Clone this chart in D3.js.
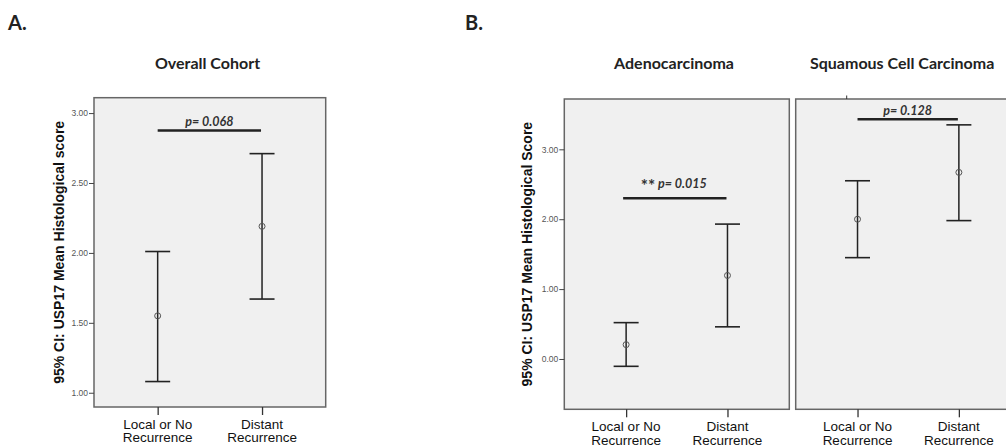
<!DOCTYPE html>
<html>
<head>
<meta charset="utf-8">
<script src="https://cdn.jsdelivr.net/npm/d3@7"></script>
<style>
  body { margin: 0; background: #fff; }
  svg { display: block; }
</style>
</head>
<body>
<svg id="chart" width="1006" height="447"></svg>
<script>
// values
var categories = [["Local or No", "Recurrence"], ["Distant", "Recurrence"]];

var overallMean = [1.55, 2.19];
var overallLow  = [1.08, 1.67];
var overallHigh = [2.01, 2.71];

var adenoMean = [0.205, 1.195];
var adenoLow  = [-0.105, 0.46];
var adenoHigh = [0.52, 1.93];

var squamMean = [2.00, 2.67];
var squamLow  = [1.45, 1.98];
var squamHigh = [2.55, 3.35];

var ticksA = [1.00, 1.50, 2.00, 2.50, 3.00];
var ticksB = [0.00, 1.00, 2.00, 3.00];

var pStars  = ["", "**", ""];
var pLabels = ["p= 0.068", "p= 0.015", "p= 0.128"];
var pLevels = [2.875, 2.30, 3.43];

var svg = d3.select("#chart");

// panel letters
svg.append("text").attr("x", 8).attr("y", 30).text("A.")
  .style("font-family", "Lato, 'Open Sans', sans-serif").style("font-weight", "bold")
  .style("font-size", "20px").style("fill", "#222");
svg.append("text").attr("x", 465).attr("y", 30).text("B.")
  .style("font-family", "Lato, 'Open Sans', sans-serif").style("font-weight", "bold")
  .style("font-size", "20px").style("fill", "#222");

var panels = [
  { title: "Overall Cohort", tx: 207.5, anchor: "middle", box: [94, 325.7, 97.7, 407], dom: [0.898, 3.11],
    ticks: ticksA, mean: overallMean, lo: overallLow, hi: overallHigh, p: 0, pGap: 4.5,
    ylab: "95% CI: USP17 Mean Histological score", ylx: 59 },
  { title: "Adenocarcinoma", tx: 674, anchor: "middle", box: [564.3, 789.3, 99, 409.3], dom: [-0.72, 3.72],
    ticks: ticksB, mean: adenoMean, lo: adenoLow, hi: adenoHigh, p: 1, pGap: 10, lineShift: -3,
    ylab: "95% CI: USP17 Mean Histological Score", ylx: 527.5 },
  { title: "Squamous Cell Carcinoma", tx: 810, anchor: "start", box: [795.7, 1020.7, 99, 409.3], dom: [-0.72, 3.72],
    ticks: null, mean: squamMean, lo: squamLow, hi: squamHigh, p: 2, pGap: 4.5 }
];

panels.forEach(function(pn) {
  var g = svg.append("g");
  var x = d3.scalePoint().domain([0, 1]).range([pn.box[0], pn.box[1]]).padding(0.61);
  var y = d3.scaleLinear().domain(pn.dom).range([pn.box[3], pn.box[2]]);

  g.append("text").attr("x", pn.tx).attr("y", 68.5).attr("text-anchor", pn.anchor)
    .text(pn.title)
    .style("font-family", "Lato, 'Open Sans', sans-serif").style("font-weight", "bold")
    .style("font-size", "16px").style("fill", "#222");

  g.append("rect")
    .attr("x", pn.box[0]).attr("y", pn.box[2])
    .attr("width", pn.box[1] - pn.box[0]).attr("height", pn.box[3] - pn.box[2])
    .style("fill", "#f0f0f0").style("stroke", "#666").style("stroke-width", 1.5);

  // y axis
  if (pn.ticks) {
    var ya = g.append("g").attr("transform", "translate(" + pn.box[0] + ",0)")
      .call(d3.axisLeft(y).tickValues(pn.ticks).tickSize(5).tickPadding(1).tickFormat(d3.format(".2f")));
    ya.select(".domain").remove();
    ya.selectAll("line").style("stroke", "#444");
    ya.selectAll("text").style("font-family", "'Liberation Sans', Arial, sans-serif")
      .style("font-size", "8.5px").style("fill", "#555");

    g.append("text")
      .attr("transform", "translate(" + pn.ylx + "," + ((pn.box[2] + pn.box[3]) / 2) + ") rotate(-90)")
      .attr("text-anchor", "middle").attr("dy", "0.35em")
      .text(pn.ylab)
      .style("font-family", "'Liberation Sans', Arial, sans-serif").style("font-weight", "bold")
      .style("font-size", "14px").style("fill", "#111");
  }

  // x axis
  var xa = g.append("g").attr("transform", "translate(0," + pn.box[3] + ")")
    .call(d3.axisBottom(x).tickSize(8).tickFormat(""));
  xa.select(".domain").remove();
  xa.selectAll("line").style("stroke", "#333").style("stroke-width", 1.3);

  categories.forEach(function(lines, i) {
    var t = g.append("text").attr("x", x(i)).attr("y", pn.box[3] + 21.5)
      .attr("text-anchor", "middle")
      .style("font-family", "'Liberation Sans', Arial, sans-serif")
      .style("font-size", "13.5px").style("fill", "#111");
    lines.forEach(function(s, k) {
      t.append("tspan").attr("x", x(i)).attr("dy", k === 0 ? 0 : 13.7).text(s);
    });
  });

  // error bars
  var idx = [0, 1];
  g.selectAll(".stem").data(idx).enter().append("line")
    .attr("x1", function(i) { return x(i); }).attr("x2", function(i) { return x(i); })
    .attr("y1", function(i) { return y(pn.lo[i]); }).attr("y2", function(i) { return y(pn.hi[i]); })
    .style("stroke", "#222").style("stroke-width", 1.5);
  [pn.lo, pn.hi].forEach(function(arr) {
    g.selectAll(null).data(idx).enter().append("line")
      .attr("x1", function(i) { return x(i) - 12.5; }).attr("x2", function(i) { return x(i) + 12.5; })
      .attr("y1", function(i) { return y(arr[i]); }).attr("y2", function(i) { return y(arr[i]); })
      .style("stroke", "#222").style("stroke-width", 1.6);
  });
  g.selectAll("circle").data(idx).enter().append("circle")
    .attr("cx", function(i) { return x(i); }).attr("cy", function(i) { return y(pn.mean[i]); })
    .attr("r", 3).style("fill", "none").style("stroke", "#555").style("stroke-width", 1);

  // significance bar
  var sh = pn.lineShift || 0;
  var ly = y(pLevels[pn.p]);
  g.append("line").attr("x1", x(0) + sh).attr("x2", x(1) - 1).attr("y1", ly).attr("y2", ly)
    .style("stroke", "#222").style("stroke-width", 2.4);
  var pt = g.append("text").attr("x", (x(0) + sh + x(1) - 1) / 2 + (pStars[pn.p] ? -1 : 0)).attr("y", ly - pn.pGap)
    .attr("text-anchor", "middle")
    .style("font-family", "Lato, 'Open Sans', sans-serif").style("font-weight", "bold")
    .style("font-style", "italic").style("font-size", "12.5px").style("fill", "#333");
  if (pStars[pn.p]) {
    pt.append("tspan").text(pStars[pn.p]).style("font-style", "normal").style("font-size", "17px")
      .attr("dy", 4);
    pt.append("tspan").text(" ").attr("dy", -4);
  }
  pt.append("tspan").text(pLabels[pn.p]);
});

// small stray tick above the right panel
svg.append("line").attr("x1", 846.7).attr("x2", 846.7).attr("y1", 95.5).attr("y2", 99)
  .style("stroke", "#333").style("stroke-width", 1);
</script>
</body>
</html>
